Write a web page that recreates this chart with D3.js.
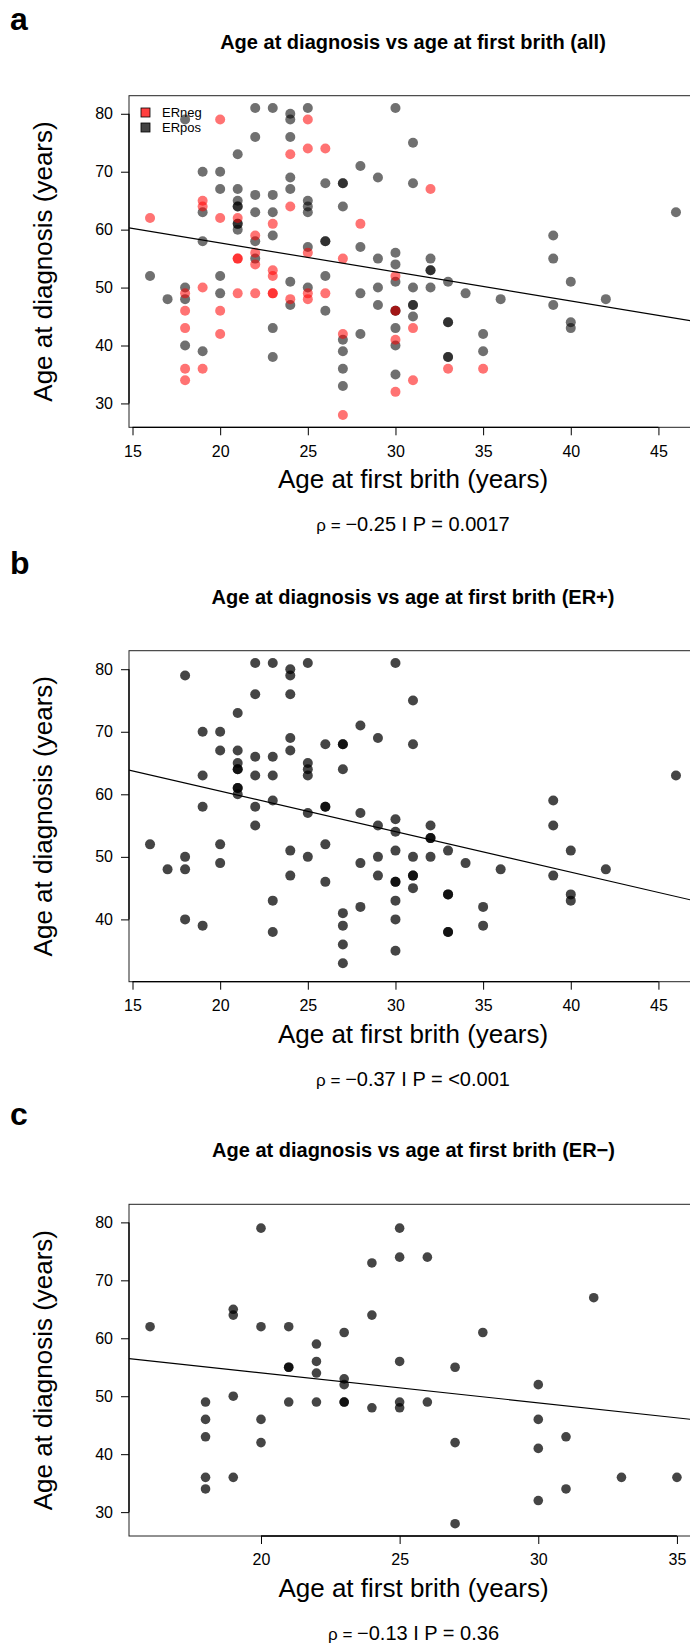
<!DOCTYPE html>
<html lang="en">
<head>
<meta charset="utf-8">
<title>Age at diagnosis vs age at first brith</title>
<script src="https://cdn.jsdelivr.net/npm/d3@7"></script>
<style>
  body { margin: 0; background: #fff; }
  svg { display: block; font-family: "Liberation Sans", Arial, Helvetica, sans-serif; }
  .axis text { font-size: 16px; fill: #000; }
  .axis line { stroke: #000; }
</style>
</head>
<body>
<script>

// ER positive: age at first birth / age at diagnosis
var posFirstBirth = [18,22,23,24,24,25,30,22,24,21, 19,20,20,21,22,23,24,24,26,27,
                     27,28,29,21,21,21,19,22,23,25, 25,25,27,21,21,21,23,19,22,22,
                     25,26,26,28,29,30,30,16,17,18, 18,20,20,24,24,25,26,26,28,29,
                     29,30,30,30,30,30,30,18,19,23, 23,27,27,27,27,28,31,31,46,39,
                     39,32,32,32,31,32,33,34,36,40, 42,39,31,31,31,33,33,33,33,35,
                     35,40,40];
var posDiagnosis = [79,81,81,80,79,81,81,76,76,73, 70,70,67,67,66,66,69,67,68,68,
                    68,71,69,65,64,64,63,63,63,65, 64,63,64,61,61,60,59,58,58,55,
                    57,58,58,57,55,56,54,52,48,50, 48,52,49,51,47,50,52,46,49,50,
                    47,51,46,46,43,40,35,40,39,43, 38,41,39,36,33,42,75,68,63,59,
                    55,55,53,53,50,50,51,49,48,51, 48,47,47,47,45,44,44,38,38,42,
                    39,44,43];

// ER negative
var negFirstBirth = [16,20,19,19,20,21,22,23,24,24, 25,25,25,21,21,22,22,23,23,18,
                     19,21,22,23,23,24,25,25,18,20, 18,20,18,19,18,26,32,28,27,30,
                     26,30,31,27,30,33,35,31,30,27];
var negDiagnosis = [62,79,65,64,62,62,59,61,73,64, 79,74,56,55,55,56,54,53,52,49,
                    50,49,49,49,49,48,49,48,46,46, 43,42,36,36,34,74,67,61,55,52,
                    49,46,43,42,41,36,36,34,32,28];

// fitted lines: [intercept, slope]
var fitAll = [67.7, -0.5];
var fitPos = [73.47, -0.648];
var fitNeg = [64.39, -0.5176];

var panelLetters = ["a", "b", "c"];
var panelTitles = ["Age at diagnosis vs age at first brith (all)",
                   "Age at diagnosis vs age at first brith (ER+)",
                   "Age at diagnosis vs age at first brith (ER\u2212)"];
var rhoTexts = ["\u22120.25 I P = 0.0017", "\u22120.37 I P = <0.001", "\u22120.13 I P = 0.36"];
var xTicksWide = [15, 20, 25, 30, 35, 40, 45];
var xTicksNeg = [20, 25, 30, 35];
var yTicksAll = [30, 40, 50, 60, 70, 80];
var yTicksPos = [40, 50, 60, 70, 80];
var legendLabels = ["ERneg", "ERpos"];

function zip(xs, ys) {
  return xs.map(function(x, i) { return {x: x, y: ys[i]}; });
}
var posPts = zip(posFirstBirth, posDiagnosis);
var negPts = zip(negFirstBirth, negDiagnosis);

var W = 690, H = 1647;
var svg = d3.select("body").append("svg")
  .attr("width", W)
  .attr("height", H);

var panels = [
  { top: 95.7, bottom: 427.3, xd: [14.8, 47.2], yd: [25.88, 83.12], right: 697,
    xt: xTicksWide, yt: yTicksAll, fit: fitAll, letterY: 30, r: 5,
    layers: [{pts: posPts, fill: "rgba(0,0,0,0.56)"}, {pts: negPts, fill: "rgba(255,0,0,0.55)"}],
    legend: true },
  { top: 650.7, bottom: 981.7, xd: [14.8, 47.2], yd: [30.04, 82.96], right: 697,
    xt: xTicksWide, yt: yTicksPos, fit: fitPos, letterY: 574, r: 5,
    layers: [{pts: posPts, fill: "rgba(0,0,0,0.73)"}] },
  { top: 1204.3, bottom: 1536, xd: [15.24, 35.76], yd: [25.88, 83.12], right: 698,
    xt: xTicksNeg, yt: yTicksAll, fit: fitNeg, letterY: 1125, r: 4.8,
    layers: [{pts: negPts, fill: "rgba(0,0,0,0.73)"}] }
];

var left = 129;

panels.forEach(function(p, i) {
  var g = svg.append("g");
  var x = d3.scaleLinear().domain(p.xd).range([left, p.right]);
  var y = d3.scaleLinear().domain(p.yd).range([p.bottom, p.top]);
  var midX = (left + p.right) / 2;

  g.append("clipPath").attr("id", "clip" + i)
    .append("rect")
    .attr("x", left).attr("y", p.top)
    .attr("width", p.right - left).attr("height", p.bottom - p.top);

  var plot = g.append("g").attr("clip-path", "url(#clip" + i + ")");

  p.layers.forEach(function(l) {
    plot.selectAll(null)
      .data(l.pts)
      .enter()
      .append("circle")
      .attr("cx", function(d) { return x(d.x); })
      .attr("cy", function(d) { return y(d.y); })
      .attr("r", p.r)
      .attr("fill", l.fill);
  });

  // regression line
  plot.append("line")
    .attr("x1", x(p.xd[0])).attr("y1", y(p.fit[0] + p.fit[1] * p.xd[0]))
    .attr("x2", x(p.xd[1])).attr("y2", y(p.fit[0] + p.fit[1] * p.xd[1]))
    .attr("stroke", "#000").attr("stroke-width", 1.2);

  // box
  g.append("rect")
    .attr("x", left).attr("y", p.top)
    .attr("width", p.right - left).attr("height", p.bottom - p.top)
    .attr("fill", "none").attr("stroke", "#222").attr("stroke-width", 1);

  // axes
  var xAxis = d3.axisBottom(x).tickValues(p.xt).tickSize(8).tickPadding(10)
    .tickFormat(d3.format("d"));
  var gx = g.append("g").attr("class", "axis")
    .attr("transform", "translate(0," + p.bottom + ")")
    .call(xAxis);
  gx.select(".domain").remove();
  gx.append("line")
    .attr("x1", x(p.xt[0])).attr("x2", x(p.xt[p.xt.length - 1]))
    .attr("stroke", "#000").attr("stroke-width", 1.3);

  var yAxis = d3.axisLeft(y).tickValues(p.yt).tickSize(8).tickPadding(8)
    .tickFormat(d3.format("d"));
  var gy = g.append("g").attr("class", "axis")
    .attr("transform", "translate(" + left + ",0)")
    .call(yAxis);
  gy.select(".domain").remove();
  gy.append("line")
    .attr("y1", y(p.yt[0])).attr("y2", y(p.yt[p.yt.length - 1]))
    .attr("stroke", "#000").attr("stroke-width", 1.3);

  // texts
  g.append("text")
    .attr("x", 10).attr("y", p.letterY)
    .attr("font-size", 32).attr("font-weight", "bold")
    .text(panelLetters[i]);

  g.append("text")
    .attr("x", midX).attr("y", p.top - 47)
    .attr("text-anchor", "middle")
    .attr("font-size", 20).attr("font-weight", "bold")
    .text(panelTitles[i]);

  g.append("text")
    .attr("transform", "translate(52," + ((p.top + p.bottom) / 2) + ") rotate(-90)")
    .attr("text-anchor", "middle")
    .attr("font-size", 26)
    .text("Age at diagnosis (years)");

  g.append("text")
    .attr("x", midX).attr("y", p.bottom + 61)
    .attr("text-anchor", "middle")
    .attr("font-size", 26)
    .text("Age at first brith (years)");

  var rho = g.append("text")
    .attr("x", midX).attr("y", p.bottom + 104)
    .attr("text-anchor", "middle")
    .attr("font-size", 20);
  rho.append("tspan").attr("font-size", 17).text("\u03c1 = ");
  rho.append("tspan").text(rhoTexts[i]);

  if (p.legend) {
    var leg = g.append("g");
    var legFill = ["#ff4040", "#444"];
    legendLabels.forEach(function(lab, k) {
      leg.append("rect")
        .attr("x", 141).attr("y", 108 + k * 15)
        .attr("width", 9).attr("height", 9)
        .attr("fill", legFill[k]).attr("stroke", "#000").attr("stroke-width", 0.8);
      leg.append("text")
        .attr("x", 162).attr("y", 117 + k * 15)
        .attr("font-size", 13)
        .text(lab);
    });
  }
});

</script>
</body>
</html>
